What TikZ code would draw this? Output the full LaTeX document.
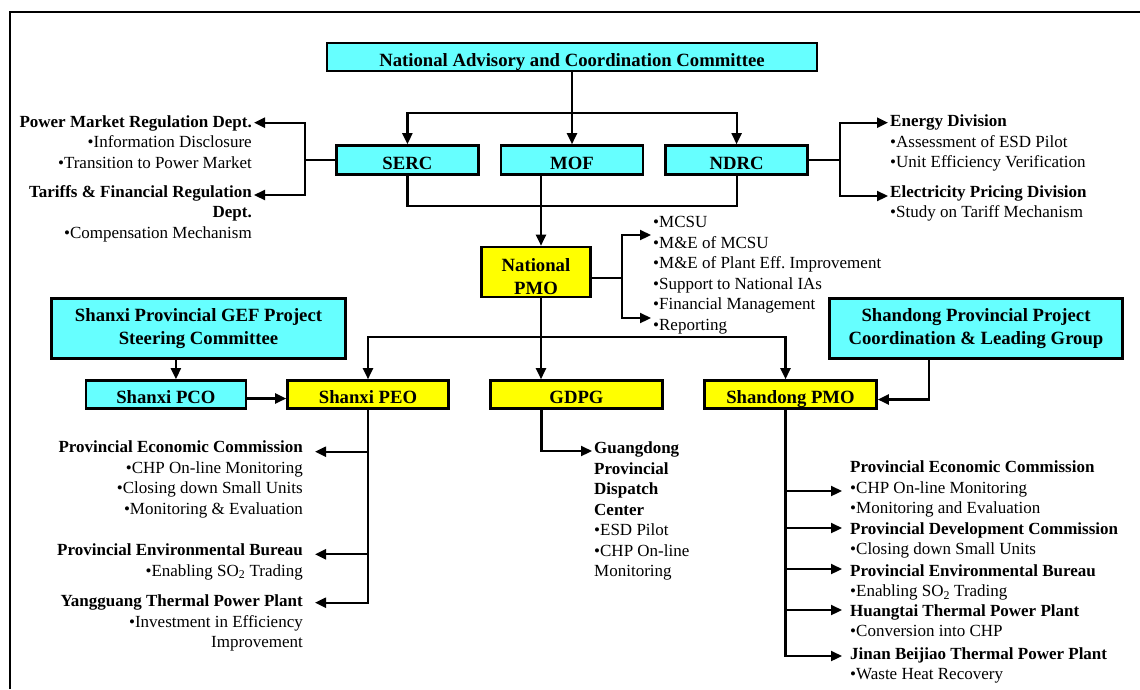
\documentclass[tikz,border=0pt]{standalone}
\usepackage{fontspec}
\setmainfont{Liberation Serif}
\usetikzlibrary{arrows.meta, positioning}
\definecolor{boxcyan}{RGB}{102,255,255}
\definecolor{boxyellow}{RGB}{255,255,0}
\tikzstyle{agency} = [rectangle, draw=black, line width=2.6pt, fill=boxcyan, inner sep=0pt, minimum width=142pt, minimum height=29pt, align=center, font=\fontsize{18.7}{23}\selectfont\bfseries]
\tikzstyle{office} = [agency, fill=boxyellow]
\tikzstyle{onerow} = [text height=18pt, text depth=0pt]
\tikzstyle{tasks} = [rectangle, inner xsep=2pt, inner ysep=0pt, font=\fontsize{17}{20.5}\selectfont, execute at begin node=\strut, execute at end node=\strut]
\tikzstyle{conn} = [line width=2.2pt]
\tikzstyle{arrow} = [conn, -{Triangle[length=11pt,width=10pt]}]

\begin{document}
\frenchspacing
\begin{tikzpicture}[x=1pt, y=-1pt, node distance=20pt]
    \useasboundingbox (0,0) rectangle (1140,689);
    \draw [line width=2.5pt] (10,689) -- (10,12) -- (1140,12);

    \node (nacc) [agency, onerow, minimum width=490pt, minimum height=28pt] at (572,57) {National Advisory and Coordination Committee};
    \node (mof) [agency, onerow] at (572,160) {MOF};
    \node (serc) [agency, onerow, left=of mof] {SERC};
    \node (ndrc) [agency, onerow, right=of mof] {NDRC};
    \node (npmo) [office, minimum width=109pt, minimum height=50pt] at (536,272) {\rule{0pt}{22pt}National\\PMO};
    \node (sxsc) [agency, minimum width=294pt, minimum height=60pt] at (198.5,328.5) {Shanxi Provincial GEF Project\\Steering Committee};
    \node (sdlg) [agency, minimum width=293pt, minimum height=60pt] at (976,328.5) {Shandong Provincial Project\\Coordination \& Leading Group};
    \node (sxpeo) [office, onerow, minimum width=161pt, minimum height=28pt] at (368,394.5) {Shanxi PEO};
    \node (sxpco) [agency, onerow, minimum width=160pt, minimum height=28pt, left=39pt of sxpeo] {Shanxi PCO};
    \node (gdpg) [office, onerow, minimum width=172pt, minimum height=28pt] at (576.5,394.5) {GDPG};
    \node (sdpmo) [office, onerow, minimum width=172pt, minimum height=28pt] at (790.5,394.5) {Shandong PMO};

    \node (pmr) [tasks, align=right, anchor=north east] at (254,115) {\textbf{Power Market Regulation Dept.}\\•Information Disclosure\\•Transition to Power Market};
    \node (tfr) [tasks, align=right, anchor=north east] at (254,185) {\textbf{Tariffs \& Financial Regulation}\\\textbf{Dept.}\\•Compensation Mechanism};
    \node (ed) [tasks, align=left, anchor=north west] at (888,114.7) {\textbf{Energy Division}\\•Assessment of ESD Pilot\\•Unit Efficiency Verification};
    \node (epd) [tasks, align=left, anchor=north west] at (888,185) {\textbf{Electricity Pricing Division}\\•Study on Tariff Mechanism};
    \node (pmol) [tasks, align=left, anchor=north west] at (651,216.5) {•MCSU\\•M\&E of MCSU\\•M\&E of Plant Eff. Improvement\\•Support to National IAs\\•Financial Management\\•Reporting};

    \node (spec) [tasks, align=right, anchor=north east] at (305,440.7) {\textbf{Provincial Economic Commission}\\•CHP On-line Monitoring\\•Closing down Small Units\\•Monitoring \& Evaluation};
    \node (speb) [tasks, align=right, anchor=north east] at (305,543.5) {\textbf{Provincial Environmental Bureau}\\•Enabling SO\textsubscript{2} Trading};
    \node (ytp) [tasks, align=right, anchor=north east] at (305,594.5) {\textbf{Yangguang Thermal Power Plant}\\•Investment in Efficiency\\Improvement};
    \node (gdpc) [tasks, align=left, anchor=north west] at (592,441.5) {\textbf{Guangdong}\\\textbf{Provincial}\\\textbf{Dispatch}\\\textbf{Center}\\•ESD Pilot\\•CHP On-line\\Monitoring};

    \node (dpec) [tasks, align=left, anchor=north west] at (848,460.7) {\textbf{Provincial Economic Commission}\\•CHP On-line Monitoring\\•Monitoring and Evaluation};
    \node (dpdc) [tasks, align=left, anchor=north west] at (848,522) {\textbf{Provincial Development Commission}\\•Closing down Small Units};
    \node (dpeb) [tasks, align=left, anchor=north west] at (848,564) {\textbf{Provincial Environmental Bureau}\\•Enabling SO\textsubscript{2} Trading};
    \node (htp) [tasks, align=left, anchor=north west] at (848,604) {\textbf{Huangtai Thermal Power Plant}\\•Conversion into CHP};
    \node (jbtp) [tasks, align=left, anchor=north west] at (848,647) {\textbf{Jinan Beijiao Thermal Power Plant}\\•Waste Heat Recovery};

    \coordinate (nsplit) at (572,113);
    \draw [arrow] (nacc) -- (mof);
    \draw [arrow] (nsplit) -| (serc);
    \draw [arrow] (nsplit) -| (ndrc);
    \draw [conn] (serc.south) -- ++(0,30) -| (ndrc.south);
    \draw [arrow] ([xshift=5pt]npmo.north |- mof.south) -- ([xshift=5pt]npmo.north);

    \draw [conn] (serc.west) -- ++(-30,0) coordinate (ssplit);
    \draw [arrow] (ssplit) |- ([yshift=-7.7pt]pmr.north east);
    \draw [arrow] (ssplit) |- ([yshift=-10pt]tfr.north east);
    \draw [conn] (ndrc.east) -- ++(31,0) coordinate (dsplit);
    \draw [arrow] (dsplit) |- ([yshift=-8pt]ed.north west);
    \draw [arrow] (dsplit) |- ([yshift=-11pt]epd.north west);

    \draw [conn] ([yshift=-6pt]npmo.east) -- ++(30,0) coordinate (psplit);
    \draw [arrow] (psplit) |- ([yshift=-18.5pt]pmol.north west);
    \draw [arrow] (psplit) |- ([yshift=-101.5pt]pmol.north west);

    \draw [conn] ([xshift=5pt]npmo.south) -- ++(0,39) coordinate (rsplit);
    \draw [arrow] (rsplit) -| (sxpeo);
    \draw [arrow] (rsplit) -| ([xshift=-5pt]sdpmo.north);
    \draw [arrow] (rsplit) -- (rsplit |- gdpg.north);

    \draw [arrow] ([xshift=10pt]sxpco.north |- sxsc.south) -- ([xshift=10pt]sxpco.north);
    \draw [arrow] ([yshift=-4pt]sxpco.east) -- ([yshift=-4pt]sxpeo.west);
    \draw [arrow] ([xshift=-47pt]sdlg.south) |- ([yshift=-5pt]sdpmo.east);

    \draw [arrow, shorten >=10pt] (sxpeo.south) |- ([yshift=-11pt]spec.north east);
    \draw [arrow, shorten >=10pt] (sxpeo.south) |- ([yshift=-10.8pt]speb.north east);
    \draw [arrow, shorten >=10pt] (sxpeo.south) |- ([yshift=-8.2pt]ytp.north east);
    \draw [arrow] ([xshift=-35pt]gdpg.south) |- ([yshift=-9.5pt]gdpc.north west);
    \draw [arrow, shorten >=6pt] ([xshift=-5pt]sdpmo.south) |- ([yshift=-30.3pt]dpec.north west);
    \draw [arrow, shorten >=6pt] ([xshift=-5pt]sdpmo.south) |- ([yshift=-6pt]dpdc.north west);
    \draw [arrow, shorten >=6pt] ([xshift=-5pt]sdpmo.south) |- ([yshift=-5pt]dpeb.north west);
    \draw [arrow, shorten >=6pt] ([xshift=-5pt]sdpmo.south) |- ([yshift=-6pt]htp.north west);
    \draw [arrow, shorten >=6pt] ([xshift=-5pt]sdpmo.south) |- ([yshift=-9pt]jbtp.north west);
\end{tikzpicture}
\end{document}
